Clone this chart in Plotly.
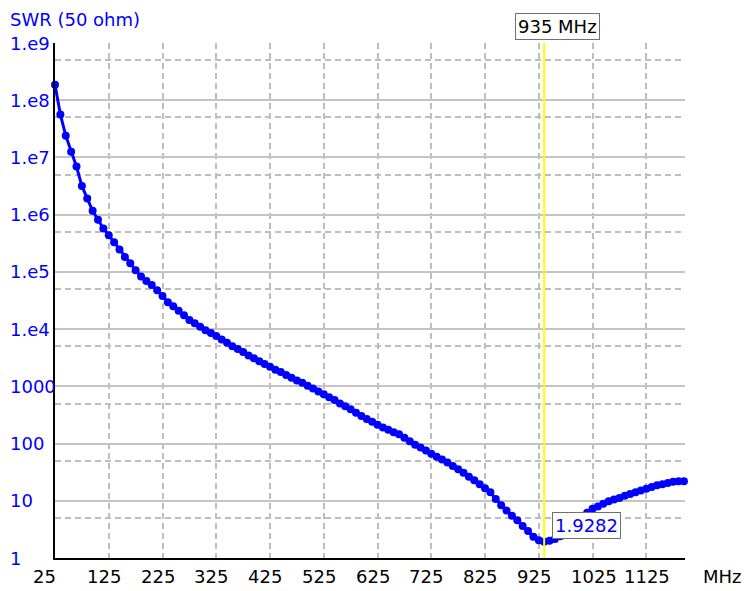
import plotly.graph_objects as go
import math

# Frequency sweep (MHz)
freq_mhz = [
    25, 35, 45, 55, 65, 75, 85, 95, 105, 115, 125, 135, 145, 155, 165, 175, 185, 195, 205, 215,
    225, 235, 245, 255, 265, 275, 285, 295, 305, 315, 325, 335, 345, 355, 365, 375, 385, 395, 405, 415,
    425, 435, 445, 455, 465, 475, 485, 495, 505, 515, 525, 535, 545, 555, 565, 575, 585, 595, 605, 615,
    625, 635, 645, 655, 665, 675, 685, 695, 705, 715, 725, 735, 745, 755, 765, 775, 785, 795, 805, 815,
    825, 835, 845, 855, 865, 875, 885, 895, 905, 915, 925, 935, 945, 955, 965, 975, 985, 995, 1005, 1015,
    1025, 1035, 1045, 1055, 1065, 1075, 1085, 1095, 1105, 1115, 1125, 1135, 1145, 1155, 1165, 1175, 1185, 1195,
]

# SWR values
swr = [
    1.86e8, 5.62e7, 2.40e7, 1.26e7, 6.92e6, 3.16e6, 1.91e6, 1.17e6, 8.13e5, 5.75e5,
    4.37e5, 3.31e5, 2.45e5, 1.82e5, 1.41e5, 1.07e5, 8.32e4, 6.92e4, 5.89e4, 4.79e4,
    3.80e4, 2.95e4, 2.51e4, 2.09e4, 1.74e4, 1.45e4, 1.26e4, 1.10e4, 9550, 8510,
    7590, 6610, 5750, 5010, 4470, 3980, 3470, 3090, 2750, 2450,
    2190, 1950, 1780, 1580, 1410, 1260, 1150, 1020, 912, 813,
    724, 646, 575, 501, 447, 398, 347, 302, 269, 240,
    214, 191, 174, 158, 145, 126, 110, 95.5, 85.1, 75.9,
    66.1, 58.9, 52.5, 46.8, 40.7, 35.5, 30.9, 26.3, 22.9, 19.5,
    16.6, 14.1, 10.7, 8.32, 6.76, 5.50, 4.57, 3.63, 2.95, 2.34,
    2.04, 1.9282, 2.00, 2.14, 2.40, 2.95, 3.63, 4.47, 5.25, 6.17,
    7.24, 7.94, 8.91, 9.77, 10.5, 11.2, 12.3, 13.2, 14.1, 15.1,
    16.2, 17.4, 18.6, 19.5, 20.4, 21.4, 21.9, 21.9,
]

x_ticks = [25, 125, 225, 325, 425, 525, 625, 725, 825, 925, 1025, 1125]
x_tick_labels = ["25", "125", "225", "325", "425", "525", "625", "725", "825", "925", "1025", "1125"]
y_ticks = [1, 10, 100, 1000, 1e4, 1e5, 1e6, 1e7, 1e8, 1e9]
y_tick_labels = ["1", "10", "100", "1000", "1.e4", "1.e5", "1.e6", "1.e7", "1.e8", "1.e9"]
y_minor = [5, 50, 500, 5e3, 5e4, 5e5, 5e6, 5e7, 5e8]

marker_freq = 935
marker_value = 1.9282

FONT = "DejaVu Sans"
BLUE = "#0000FF"

fig = go.Figure()
fig.add_trace(go.Scatter(
    x=freq_mhz, y=swr, mode="lines+markers",
    line=dict(color=BLUE, width=3),
    marker=dict(color=BLUE, size=8),
    showlegend=False, cliponaxis=False,
))

# marker line
fig.add_shape(type="line", x0=marker_freq, x1=marker_freq, yref="paper", y0=0, y1=1,
              line=dict(color="#FFFF00", width=2), layer="above")

annotations = []
for v, t in zip(x_ticks, x_tick_labels):
    annotations.append(dict(x=v, xref="x", y=0, yref="paper", text=t, showarrow=False,
                            xanchor="left", yanchor="middle", xshift=-24, yshift=-18,
                            font=dict(family=FONT, size=18, color="black")))
for v, t in zip(y_ticks, y_tick_labels):
    annotations.append(dict(x=0, xref="paper", y=math.log10(v), yref="y", text=t, showarrow=False,
                            xanchor="left", yanchor="middle", xshift=-47,
                            font=dict(family=FONT, size=18, color=BLUE)))
annotations.append(dict(x=0, xref="paper", y=1, yref="paper", text="SWR (50 ohm)", showarrow=False,
                        xanchor="left", yanchor="bottom", xshift=-46, yshift=12, borderpad=0,
                        font=dict(family=FONT, size=18, color=BLUE)))
annotations.append(dict(x=1, xref="paper", y=0, yref="paper", text="MHz", showarrow=False,
                        xanchor="left", yanchor="middle", xshift=16, yshift=-18,
                        font=dict(family=FONT, size=18, color="black")))
annotations.append(dict(x=marker_freq, xref="x", y=1, yref="paper", text=f"{marker_freq} MHz",
                        showarrow=False, xanchor="center", yanchor="bottom", xshift=13, yshift=3,
                        bgcolor="white", bordercolor="#707070", borderwidth=1, borderpad=2,
                        font=dict(family=FONT, size=18, color="black")))
annotations.append(dict(x=marker_freq, xref="x", y=math.log10(marker_value), yref="y",
                        text=f"{marker_value}", showarrow=False, xanchor="left", yanchor="bottom",
                        xshift=8, yshift=3,
                        bgcolor="white", bordercolor="#707070", borderwidth=1, borderpad=2,
                        font=dict(family=FONT, size=18, color=BLUE)))

fig.update_layout(
    width=743, height=583,
    margin=dict(l=47, r=66, t=35, b=33),
    paper_bgcolor="white", plot_bgcolor="white",
    font=dict(family=FONT, size=18),
    annotations=annotations,
    xaxis=dict(range=[25, 1197], tickmode="array", tickvals=x_ticks, showticklabels=False,
               showgrid=True, gridcolor="#BDBDBD", gridwidth=1.5, griddash="6px,4px",
               zeroline=False, showline=True, linecolor="black", linewidth=2, ticks=""),
    yaxis=dict(type="log", range=[0, 9], tickmode="array", tickvals=y_ticks, showticklabels=False,
               showgrid=True, gridcolor="#C4C4C4", gridwidth=2,
               zeroline=False, showline=True, linecolor="black", linewidth=2, ticks="",
               minor=dict(tickmode="array", tickvals=y_minor, showgrid=True, gridcolor="#BDBDBD",
                          gridwidth=1.5, griddash="6px,4px", ticks="")),
)

fig.write_html("out.html")
